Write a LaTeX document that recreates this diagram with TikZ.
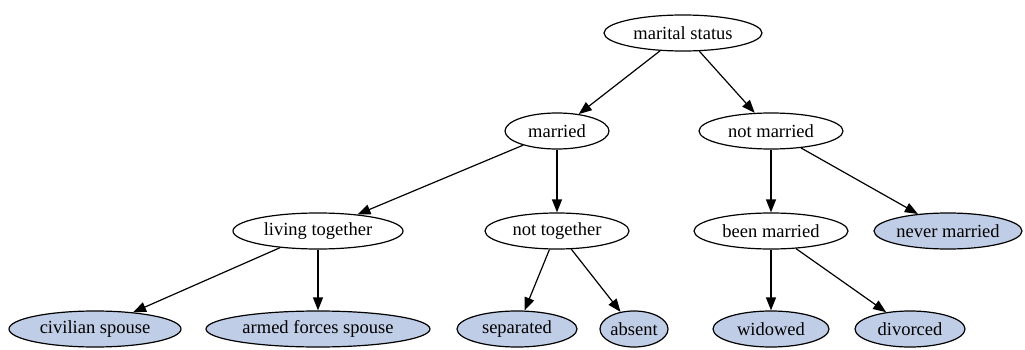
\documentclass[tikz,border=0pt]{standalone}
\usepackage{fontspec}
\setmainfont{Liberation Serif}
\usetikzlibrary{shapes.geometric,arrows.meta}

\definecolor{leafblue}{RGB}{191,205,230}

\tikzset{
	cat/.style={ellipse, draw, line width=1.2pt, minimum height=36pt, inner sep=0pt, font=\fontsize{18.5}{20}\selectfont},
	leaf/.style={cat, fill=leafblue},
	branch/.style={-{Triangle[length=13pt,width=10pt]}, line width=1.2pt}
}

\begin{document}
\begin{tikzpicture}[x=1pt, y=-1pt]
		\useasboundingbox (0,0) rectangle (1025,350);
		\node [cat, minimum width=158pt] (status) at (683,33) {marital status};
		\node [cat, minimum width=104pt] (married) at (557,131) {married};
		\node [cat, minimum width=144pt] (notmarried) at (771,131) {not married};
		\node [cat, minimum width=170pt] (together) at (318,231) {living together};
		\node [cat, minimum width=144pt] (nottogether) at (557,231) {not together};
		\node [cat, minimum width=154pt] (beenmarried) at (771,231) {been married};
		\node [leaf, minimum width=148pt] (nevermarried) at (948,231) {never married};
		\node [leaf, minimum width=172pt] (civilian) at (95,329) {civilian spouse};
		\node [leaf, minimum width=224pt] (armed) at (318,329) {armed forces spouse};
		\node [leaf, minimum width=120pt] (separated) at (517,329) {separated};
		\node [leaf, minimum width=68pt] (absent) at (634,329) {absent};
		\node [leaf, minimum width=116pt] (widowed) at (771,329) {widowed};
		\node [leaf, minimum width=110pt] (divorced) at (910,329) {divorced};
		\draw [branch] (status) -- (married);
		\draw [branch] (status) -- (notmarried);
		\draw [branch] (married) -- (together);
		\draw [branch] (married) -- (nottogether);
		\draw [branch] (notmarried) -- (beenmarried);
		\draw [branch] (notmarried) -- (nevermarried);
		\draw [branch] (together) -- (civilian);
		\draw [branch] (together) -- (armed);
		\draw [branch] (nottogether) -- (separated);
		\draw [branch] (nottogether) -- (absent);
		\draw [branch] (beenmarried) -- (widowed);
		\draw [branch] (beenmarried) -- (divorced);
	\end{tikzpicture}
\end{document}
